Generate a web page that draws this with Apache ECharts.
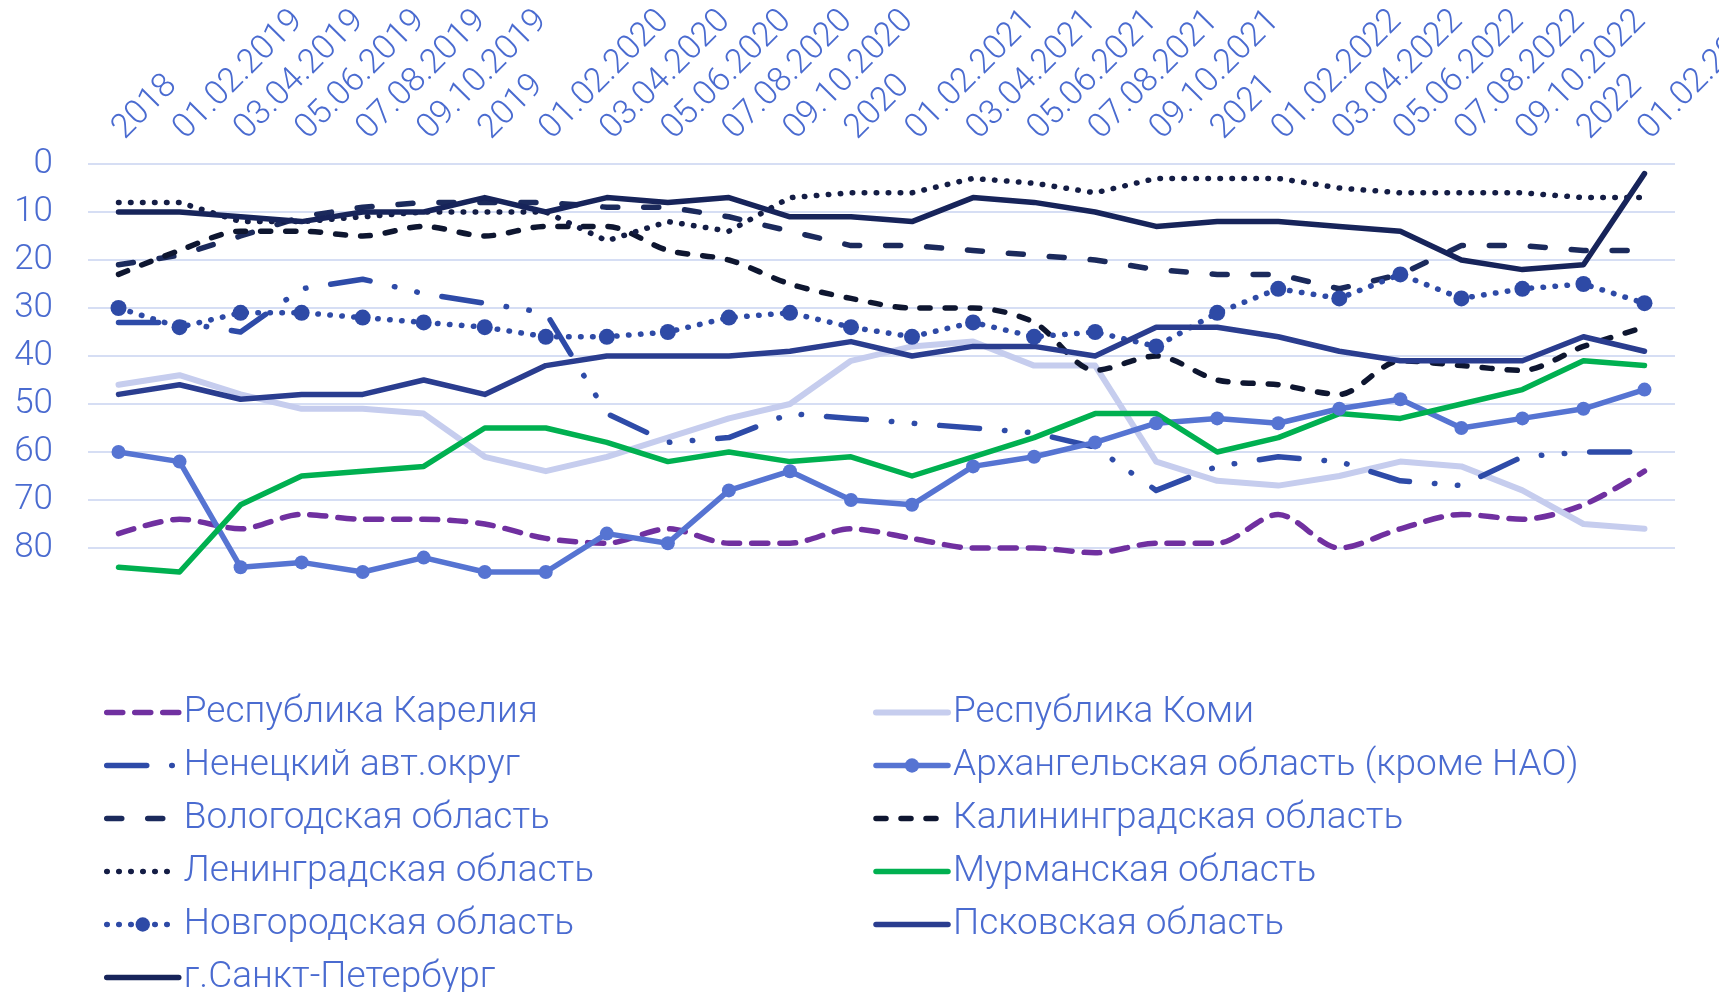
<!DOCTYPE html>
<html>
<head>
<meta charset="utf-8">
<script src="https://cdn.jsdelivr.net/npm/echarts@6/dist/echarts.min.js"></script>
<style>
    html, body { margin: 0; padding: 0; background: #fff; }
    #chart { width: 1719px; height: 992px; }
</style>
</head>
<body>
<div id="chart"></div>
<script>
    // периоды (подписи оси X)
    var categories = ['2018', '01.02.2019', '03.04.2019', '05.06.2019', '07.08.2019', '09.10.2019', '2019',
        '01.02.2020', '03.04.2020', '05.06.2020', '07.08.2020', '09.10.2020', '2020',
        '01.02.2021', '03.04.2021', '05.06.2021', '07.08.2021', '09.10.2021', '2021',
        '01.02.2022', '03.04.2022', '05.06.2022', '07.08.2022', '09.10.2022', '2022', '01.02.2023'];

    // места регионов
    var karelia = [77, 74, 76, 73, 74, 74, 75, 78, 79, 76, 79, 79, 76, 78, 80, 80, 81, 79, 79, 73, 80, 76, 73, 74, 71, 64];
    var komi = [46, 44, 48, 51, 51, 52, 61, 64, 61, 57, 53, 50, 41, 38, 37, 42, 42, 62, 66, 67, 65, 62, 63, 68, 75, 76];
    var nenets = [33, 33, 35, 26, 24, 27, 29, 31, 52, 58, 57, 52, 53, 54, 55, 56, 59, 68, 63, 61, 62, 66, 67, 61, 60, 60];
    var arkh = [60, 62, 84, 83, 85, 82, 85, 85, 77, 79, 68, 64, 70, 71, 63, 61, 58, 54, 53, 54, 51, 49, 55, 53, 51, 47];
    var vologda = [21, 19, 15, 11, 9, 8, 8, 8, 9, 9, 11, 14, 17, 17, 18, 19, 20, 22, 23, 23, 26, 23, 17, 17, 18, 18];
    var kalin = [23, 18, 14, 14, 15, 13, 15, 13, 13, 18, 20, 25, 28, 30, 30, 33, 43, 40, 45, 46, 48, 41, 42, 43, 38, 34];
    var lenobl = [8, 8, 12, 12, 11, 10, 10, 10, 16, 12, 14, 7, 6, 6, 3, 4, 6, 3, 3, 3, 5, 6, 6, 6, 7, 7];
    var murm = [84, 85, 71, 65, 64, 63, 55, 55, 58, 62, 60, 62, 61, 65, 61, 57, 52, 52, 60, 57, 52, 53, 50, 47, 41, 42];
    var novg = [30, 34, 31, 31, 32, 33, 34, 36, 36, 35, 32, 31, 34, 36, 33, 36, 35, 38, 31, 26, 28, 23, 28, 26, 25, 29];
    var pskov = [48, 46, 49, 48, 48, 45, 48, 42, 40, 40, 40, 39, 37, 40, 38, 38, 40, 34, 34, 36, 39, 41, 41, 41, 36, 39];
    var spb = [10, 10, 11, 12, 10, 10, 7, 10, 7, 8, 7, 11, 11, 12, 7, 8, 10, 13, 12, 12, 13, 14, 20, 22, 21, 2];

    var textColor = '#4a6bd0';
    var font = 'Roboto, "Noto Sans", sans-serif';

    var chart = echarts.init(document.getElementById('chart'));

    function line(name, data, color, dash, extra) {
        var s = {
            name: name,
            type: 'line',
            data: data,
            symbol: 'none',
            color: color,
            lineStyle: { color: color, width: 5.5, type: dash, cap: 'round', join: 'round' }
        };
        for (var k in extra) s[k] = extra[k];
        return s;
    }

    var series = [
        line('Республика Карелия', karelia, '#7030a0', [16, 12], { smooth: 0.3 }),
        line('Республика Коми', komi, '#c6cdee', 'solid'),
        line('Ненецкий авт.округ', nenets, '#2e4ba8', [40, 25, 0.5, 22.5, 0.5, 25]),
        line('Архангельская область (кроме НАО)', arkh, '#5674d2', 'solid',
            { symbol: 'circle', symbolSize: 14, showSymbol: true }),
        line('Вологодская область', vologda, '#1b2a5c', [15, 26]),
        line('Калининградская область', kalin, '#0e1630', [10, 15], { smooth: 0.3 }),
        line('Ленинградская область', lenobl, '#141d45', [0.5, 11.5]),
        line('Мурманская область', murm, '#00b050', 'solid'),
        line('Новгородская область', novg, '#2e4aa6', [0.5, 11.5],
            { symbol: 'circle', symbolSize: 16, showSymbol: true }),
        line('Псковская область', pskov, '#2a3d8f', 'solid'),
        line('г.Санкт-Петербург', spb, '#17245a', 'solid')
    ];
    series[1].lineStyle.width = 6;

    // легенда в две колонки
    var legendLeft = [];
    var legendRight = [];
    series.forEach(function (s, i) {
        var item = { name: s.name };
        if (s.symbol == 'none') item.itemStyle = { opacity: 0 };
        if (i % 2 == 0) legendLeft.push(item); else legendRight.push(item);
    });

    var legendBase = {
        orient: 'vertical',
        top: 689,
        height: 360,
        itemWidth: 72,
        itemHeight: 18,
        itemGap: 16,
        lineStyle: { width: 'inherit' },
        textStyle: { color: textColor, fontSize: 37, fontWeight: 300, fontFamily: font, lineHeight: 37 }
    };

    option = {
        animation: false,
        backgroundColor: '#fff',
        grid: { left: 88, right: 44, top: 164, bottom: 396, outerBoundsMode: 'none', containLabel: false },
        legend: [
            Object.assign({}, legendBase, { left: 99, data: legendLeft }),
            Object.assign({}, legendBase, { left: 868, data: legendRight })
        ],
        xAxis: {
            type: 'category',
            position: 'top',
            data: categories,
            axisLine: { show: false },
            axisTick: { show: false },
            axisLabel: {
                interval: 0,
                rotate: 45,
                margin: 30,
                color: textColor,
                fontSize: 34,
                fontWeight: 300,
                fontFamily: font
            }
        },
        yAxis: {
            type: 'value',
            inverse: true,
            min: 0,
            max: 90,
            interval: 10,
            axisLine: { show: false },
            axisTick: { show: false },
            axisLabel: {
                margin: 35,
                color: textColor,
                fontSize: 35,
                fontWeight: 300,
                fontFamily: font,
                formatter: function (v) { return v >= 90 ? '' : v; }
            },
            splitLine: { showMaxLine: false, lineStyle: { color: '#d6def4', width: 2 } }
        },
        series: series
    };

    chart.setOption(option);
</script>
</body>
</html>
